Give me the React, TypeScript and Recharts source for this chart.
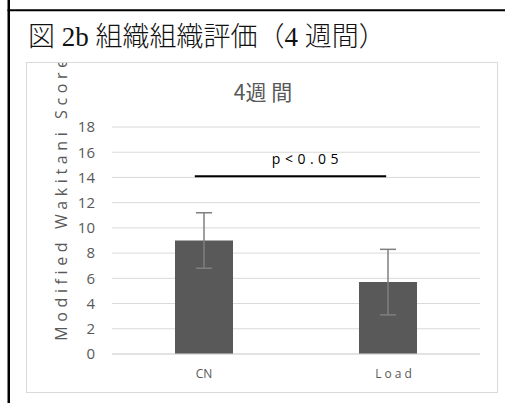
import React from 'react';
import { BarChart, Bar, XAxis, YAxis, CartesianGrid, ErrorBar, ReferenceLine, Label } from 'recharts';

const figureTitle = '図 2b 組織組織評価（4 週間）';
const chartTitle = '4週 間';
const yAxisTitle = 'Modified Wakitani Score';
const categories = ['CN', 'Load'];
const categoryPositions = [0.5, 1.5]; // centres of the categories on a 0..2 scale
const scores = [9.0, 5.7];
const errors = [2.2, 2.6];
const yTicks = [0, 2, 4, 6, 8, 10, 12, 14, 16, 18];
const sigLabel = 'p<0.05';
const sigFrom = 0.45;
const sigTo = 1.49;
const sigLevel = 14.1;

const data = categories.map((name, i) => ({ name, pos: categoryPositions[i], score: scores[i], err: errors[i] }));

const tickSpacing: Record<string, number> = { CN: 0, Load: 3 };
const tickShift: Record<string, number> = { CN: 0, Load: 7 };

const XTick = (props: any) => {
  const { x, y, payload } = props;
  const v = payload.value as string;
  return (
    <text
      x={x + (tickShift[v] || 0)}
      y={y}
      dy="0.71em"
      textAnchor="middle"
      fill="#595959"
      fontSize={12}
      style={{ letterSpacing: tickSpacing[v] || 0 }}
    >
      {v}
    </text>
  );
};

export default function App() {
  return (
    <div style={{ position: 'absolute', left: 0, top: 0, width: 505, height: 403, background: '#fff', overflow: 'hidden' }}>
      <svg width={505} height={403} style={{ position: 'absolute', left: 0, top: 0 }}>
        <line x1={8.75} y1={0} x2={8.75} y2={403} stroke="#000" strokeWidth={2.5} />
        <line x1={7.5} y1={10.3} x2={505} y2={10.3} stroke="#000" strokeWidth={2} />
        <text
          x={28}
          y={46}
          fontSize={27}
          fontWeight={300}
          fontFamily='"Liberation Serif", "Noto Sans CJK JP", serif'
          fill="#111"
        >
          {figureTitle}
        </text>
        <text x={263} y={99.5} fontSize={21} textAnchor="middle" fontFamily='"Noto Sans CJK JP", sans-serif' fill="#595959">
          {chartTitle}
        </text>
      </svg>
      <div
        style={{
          position: 'absolute',
          left: 26,
          top: 62,
          width: 472,
          height: 331,
          border: '1px solid #d9d9d9',
          boxSizing: 'border-box',
        }}
      >
        <BarChart
          width={470}
          height={329}
          data={data}
          margin={{ top: 64, right: 17, bottom: 0, left: 0 }}
          barSize={58}
          style={{ fontFamily: '"Open Sans", sans-serif' }}
        >
          <CartesianGrid vertical={false} stroke="#d9d9d9" />
          <XAxis
            dataKey="name"
            axisLine={{ stroke: '#d9d9d9' }}
            tickLine={false}
            tickSize={0}
            tickMargin={15}
            height={38}
            tick={<XTick />}
            interval={0}
          />
          <XAxis xAxisId="pos" dataKey="pos" type="number" domain={[0, 2]} allowDataOverflow hide />
          <YAxis
            domain={[0, 18]}
            ticks={yTicks}
            interval={0}
            axisLine={false}
            tickLine={false}
            tickSize={0}
            tickMargin={17}
            width={85}
            tick={{ fill: '#595959', fontSize: 15 }}
          >
            <Label
              value={yAxisTitle}
              angle={-90}
              position="center"
              dx={-8.5}
              dy={-43}
              fill="#595959"
              fontSize={16}
              style={{ letterSpacing: 4.6 }}
            />
          </YAxis>
          <Bar dataKey="score" fill="#595959" isAnimationActive={false}>
            <ErrorBar dataKey="err" width={8} stroke="#7f7f7f" strokeWidth={1.5} isAnimationActive={false} />
          </Bar>
          <ReferenceLine
            xAxisId="pos"
            segment={[
              { x: sigFrom, y: sigLevel },
              { x: sigTo, y: sigLevel },
            ]}
            stroke="#000"
            strokeWidth={2}
            ifOverflow="visible"
            label={{
              value: sigLabel,
              position: 'top',
              offset: 12,
              dx: 17,
              fill: '#000',
              fontSize: 14,
              style: { letterSpacing: 4.5 },
            }}
          />
        </BarChart>
      </div>
    </div>
  );
}
